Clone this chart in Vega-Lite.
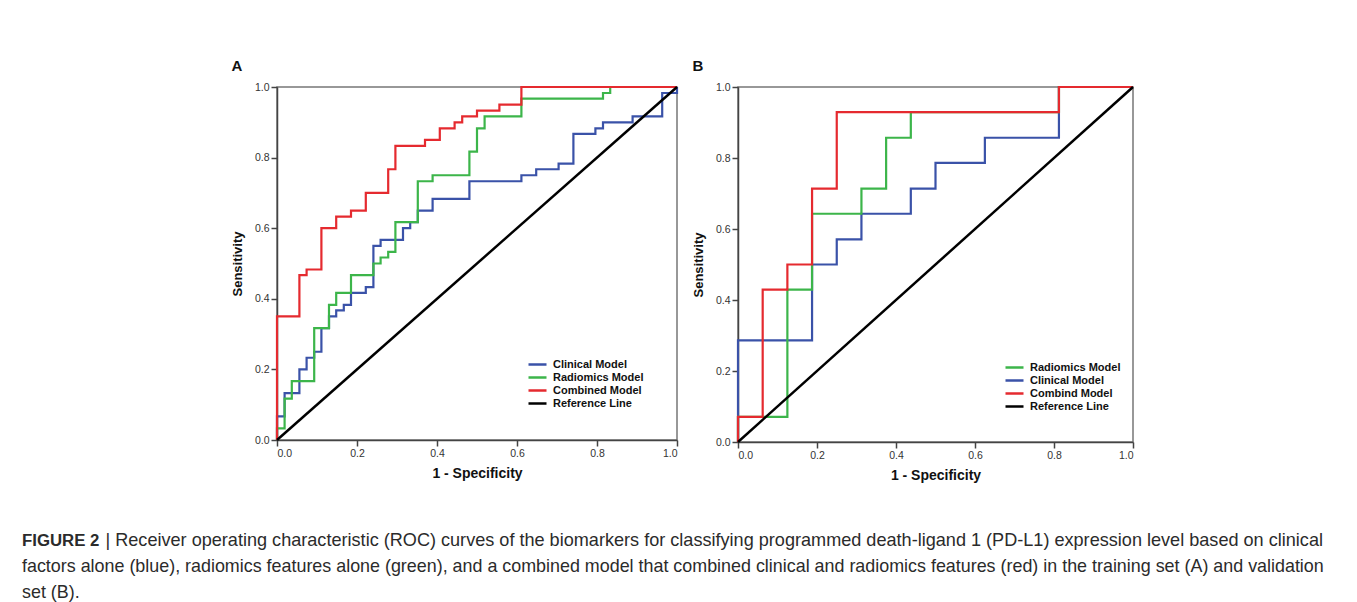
{
  "$schema": "https://vega.github.io/schema/vega-lite/v6.json",
  "background": "white",
  "padding": {"left": 22, "top": 58, "right": 0, "bottom": 0},
  "datasets": {
    "rocA": [
      {"model": "Clinical Model", "i": 0, "fpr": 0, "tpr": 0},
      {"model": "Clinical Model", "i": 1, "fpr": 0.019, "tpr": 0.067},
      {"model": "Clinical Model", "i": 2, "fpr": 0.056, "tpr": 0.133},
      {"model": "Clinical Model", "i": 3, "fpr": 0.074, "tpr": 0.2},
      {"model": "Clinical Model", "i": 4, "fpr": 0.093, "tpr": 0.233},
      {"model": "Clinical Model", "i": 5, "fpr": 0.111, "tpr": 0.25},
      {"model": "Clinical Model", "i": 6, "fpr": 0.13, "tpr": 0.317},
      {"model": "Clinical Model", "i": 7, "fpr": 0.148, "tpr": 0.35},
      {"model": "Clinical Model", "i": 8, "fpr": 0.167, "tpr": 0.367},
      {"model": "Clinical Model", "i": 9, "fpr": 0.185, "tpr": 0.383},
      {"model": "Clinical Model", "i": 10, "fpr": 0.222, "tpr": 0.417},
      {"model": "Clinical Model", "i": 11, "fpr": 0.241, "tpr": 0.433},
      {"model": "Clinical Model", "i": 12, "fpr": 0.259, "tpr": 0.55},
      {"model": "Clinical Model", "i": 13, "fpr": 0.315, "tpr": 0.567},
      {"model": "Clinical Model", "i": 14, "fpr": 0.333, "tpr": 0.6},
      {"model": "Clinical Model", "i": 15, "fpr": 0.352, "tpr": 0.617},
      {"model": "Clinical Model", "i": 16, "fpr": 0.389, "tpr": 0.65},
      {"model": "Clinical Model", "i": 17, "fpr": 0.481, "tpr": 0.683},
      {"model": "Clinical Model", "i": 18, "fpr": 0.611, "tpr": 0.733},
      {"model": "Clinical Model", "i": 19, "fpr": 0.648, "tpr": 0.75},
      {"model": "Clinical Model", "i": 20, "fpr": 0.704, "tpr": 0.767},
      {"model": "Clinical Model", "i": 21, "fpr": 0.741, "tpr": 0.783},
      {"model": "Clinical Model", "i": 22, "fpr": 0.796, "tpr": 0.867},
      {"model": "Clinical Model", "i": 23, "fpr": 0.815, "tpr": 0.883},
      {"model": "Clinical Model", "i": 24, "fpr": 0.889, "tpr": 0.9},
      {"model": "Clinical Model", "i": 25, "fpr": 0.963, "tpr": 0.917},
      {"model": "Clinical Model", "i": 26, "fpr": 1, "tpr": 0.983},
      {"model": "Clinical Model", "i": 27, "fpr": 1, "tpr": 1},
      {"model": "Radiomics Model", "i": 0, "fpr": 0, "tpr": 0},
      {"model": "Radiomics Model", "i": 1, "fpr": 0.019, "tpr": 0.033},
      {"model": "Radiomics Model", "i": 2, "fpr": 0.037, "tpr": 0.117},
      {"model": "Radiomics Model", "i": 3, "fpr": 0.093, "tpr": 0.167},
      {"model": "Radiomics Model", "i": 4, "fpr": 0.13, "tpr": 0.317},
      {"model": "Radiomics Model", "i": 5, "fpr": 0.148, "tpr": 0.383},
      {"model": "Radiomics Model", "i": 6, "fpr": 0.185, "tpr": 0.417},
      {"model": "Radiomics Model", "i": 7, "fpr": 0.241, "tpr": 0.467},
      {"model": "Radiomics Model", "i": 8, "fpr": 0.259, "tpr": 0.5},
      {"model": "Radiomics Model", "i": 9, "fpr": 0.278, "tpr": 0.517},
      {"model": "Radiomics Model", "i": 10, "fpr": 0.296, "tpr": 0.533},
      {"model": "Radiomics Model", "i": 11, "fpr": 0.352, "tpr": 0.617},
      {"model": "Radiomics Model", "i": 12, "fpr": 0.389, "tpr": 0.733},
      {"model": "Radiomics Model", "i": 13, "fpr": 0.481, "tpr": 0.75},
      {"model": "Radiomics Model", "i": 14, "fpr": 0.5, "tpr": 0.817},
      {"model": "Radiomics Model", "i": 15, "fpr": 0.519, "tpr": 0.883},
      {"model": "Radiomics Model", "i": 16, "fpr": 0.611, "tpr": 0.917},
      {"model": "Radiomics Model", "i": 17, "fpr": 0.815, "tpr": 0.967},
      {"model": "Radiomics Model", "i": 18, "fpr": 0.833, "tpr": 0.983},
      {"model": "Radiomics Model", "i": 19, "fpr": 1, "tpr": 1},
      {"model": "Combined Model", "i": 0, "fpr": 0, "tpr": 0},
      {"model": "Combined Model", "i": 1, "fpr": 0.056, "tpr": 0.35},
      {"model": "Combined Model", "i": 2, "fpr": 0.074, "tpr": 0.467},
      {"model": "Combined Model", "i": 3, "fpr": 0.111, "tpr": 0.483},
      {"model": "Combined Model", "i": 4, "fpr": 0.148, "tpr": 0.6},
      {"model": "Combined Model", "i": 5, "fpr": 0.185, "tpr": 0.633},
      {"model": "Combined Model", "i": 6, "fpr": 0.222, "tpr": 0.65},
      {"model": "Combined Model", "i": 7, "fpr": 0.278, "tpr": 0.7},
      {"model": "Combined Model", "i": 8, "fpr": 0.296, "tpr": 0.767},
      {"model": "Combined Model", "i": 9, "fpr": 0.37, "tpr": 0.833},
      {"model": "Combined Model", "i": 10, "fpr": 0.407, "tpr": 0.85},
      {"model": "Combined Model", "i": 11, "fpr": 0.444, "tpr": 0.883},
      {"model": "Combined Model", "i": 12, "fpr": 0.463, "tpr": 0.9},
      {"model": "Combined Model", "i": 13, "fpr": 0.5, "tpr": 0.917},
      {"model": "Combined Model", "i": 14, "fpr": 0.556, "tpr": 0.933},
      {"model": "Combined Model", "i": 15, "fpr": 0.611, "tpr": 0.95},
      {"model": "Combined Model", "i": 16, "fpr": 1, "tpr": 1},
      {"model": "Reference Line", "i": 0, "fpr": 0, "tpr": 0},
      {"model": "Reference Line", "i": 1, "fpr": 1, "tpr": 1}
    ],
    "rocB": [
      {"model": "Radiomics Model", "i": 0, "fpr": 0, "tpr": 0},
      {"model": "Radiomics Model", "i": 1, "fpr": 0.125, "tpr": 0.071},
      {"model": "Radiomics Model", "i": 2, "fpr": 0.1875, "tpr": 0.429},
      {"model": "Radiomics Model", "i": 3, "fpr": 0.3125, "tpr": 0.643},
      {"model": "Radiomics Model", "i": 4, "fpr": 0.375, "tpr": 0.714},
      {"model": "Radiomics Model", "i": 5, "fpr": 0.4375, "tpr": 0.857},
      {"model": "Radiomics Model", "i": 6, "fpr": 0.8125, "tpr": 0.929},
      {"model": "Radiomics Model", "i": 7, "fpr": 1, "tpr": 1},
      {"model": "Clinical Model", "i": 0, "fpr": 0, "tpr": 0},
      {"model": "Clinical Model", "i": 1, "fpr": 0.1875, "tpr": 0.286},
      {"model": "Clinical Model", "i": 2, "fpr": 0.25, "tpr": 0.5},
      {"model": "Clinical Model", "i": 3, "fpr": 0.3125, "tpr": 0.571},
      {"model": "Clinical Model", "i": 4, "fpr": 0.4375, "tpr": 0.643},
      {"model": "Clinical Model", "i": 5, "fpr": 0.5, "tpr": 0.714},
      {"model": "Clinical Model", "i": 6, "fpr": 0.625, "tpr": 0.786},
      {"model": "Clinical Model", "i": 7, "fpr": 0.8125, "tpr": 0.857},
      {"model": "Clinical Model", "i": 8, "fpr": 1, "tpr": 1},
      {"model": "Combind Model", "i": 0, "fpr": 0, "tpr": 0},
      {"model": "Combind Model", "i": 1, "fpr": 0.0625, "tpr": 0.071},
      {"model": "Combind Model", "i": 2, "fpr": 0.125, "tpr": 0.429},
      {"model": "Combind Model", "i": 3, "fpr": 0.1875, "tpr": 0.5},
      {"model": "Combind Model", "i": 4, "fpr": 0.25, "tpr": 0.714},
      {"model": "Combind Model", "i": 5, "fpr": 0.8125, "tpr": 0.929},
      {"model": "Combind Model", "i": 6, "fpr": 1, "tpr": 1},
      {"model": "Reference Line", "i": 0, "fpr": 0, "tpr": 0},
      {"model": "Reference Line", "i": 1, "fpr": 1, "tpr": 1}
    ],
    "captionLeft": [
      {"line": 2, "text": "factors alone (blue), radiomics features alone (green), and a combined model that combined clinical and radiomics features (red) in the training set (A) and validation"},
      {"line": 3, "text": "set (B)."}
    ],
    "captionBold": [
      {"line": 1, "text": "FIGURE 2"}
    ],
    "captionRight": [
      {"line": 1, "text": "| Receiver operating characteristic (ROC) curves of the biomarkers for classifying programmed death-ligand 1 (PD-L1) expression level based on clinical"}
    ]
  },
  "vconcat": [
    {
      "hconcat": [
        {
          "width": 200,
          "height": 10,
          "data": {"values": []},
          "mark": {"type": "point", "opacity": 0},
          "view": {"stroke": null}
        },
        {
          "width": 400,
          "height": 353,
          "title": {"text": "A", "anchor": "start", "frame": "bounds", "fontSize": 15, "fontWeight": "bold", "offset": 8, "color": "#111"},
          "data": {"name": "rocA"},
          "encoding": {
            "x": {"field": "fpr", "type": "quantitative", "scale": {"domain": [0, 1], "nice": false}, "axis": {"title": "1 - Specificity", "values": [0, 0.2, 0.4, 0.6, 0.8, 1], "format": ".1f", "titleFontSize": 14, "titlePadding": 8}},
            "y": {"field": "tpr", "type": "quantitative", "scale": {"domain": [0, 1], "nice": false}, "axis": {"title": "Sensitivity", "values": [0, 0.2, 0.4, 0.6, 0.8, 1], "format": ".1f", "titleFontSize": 13, "titlePadding": 10}},
            "color": {
              "field": "model", "type": "nominal",
              "scale": {"domain": ["Clinical Model", "Radiomics Model", "Combined Model", "Reference Line"], "range": ["#3a52a8", "#3cb54a", "#e52a2f", "#000000"]},
              "legend": {"orient": "none", "legendX": 250, "legendY": 271}
            },
            "order": {"field": "i", "type": "quantitative"}
          },
          "layer": [
            {"transform": [{"filter": "datum.model === 'Clinical Model'"}], "mark": {"type": "line", "interpolate": "step-before", "strokeWidth": 2.2}},
            {"transform": [{"filter": "datum.model === 'Radiomics Model'"}], "mark": {"type": "line", "interpolate": "step-before", "strokeWidth": 2.2}},
            {"transform": [{"filter": "datum.model === 'Combined Model'"}], "mark": {"type": "line", "interpolate": "step-before", "strokeWidth": 2.2}},
            {"transform": [{"filter": "datum.model === 'Reference Line'"}], "mark": {"type": "line", "strokeWidth": 2.5}}
          ]
        },
        {
          "width": 395,
          "height": 355,
          "title": {"text": "B", "anchor": "start", "frame": "bounds", "fontSize": 15, "fontWeight": "bold", "offset": 8, "color": "#111"},
          "data": {"name": "rocB"},
          "encoding": {
            "x": {"field": "fpr", "type": "quantitative", "scale": {"domain": [0, 1], "nice": false}, "axis": {"title": "1 - Specificity", "values": [0, 0.2, 0.4, 0.6, 0.8, 1], "format": ".1f", "titleFontSize": 14, "titlePadding": 8}},
            "y": {"field": "tpr", "type": "quantitative", "scale": {"domain": [0, 1], "nice": false}, "axis": {"title": "Sensitivity", "values": [0, 0.2, 0.4, 0.6, 0.8, 1], "format": ".1f", "titleFontSize": 13, "titlePadding": 10}},
            "color": {
              "field": "model", "type": "nominal",
              "scale": {"domain": ["Radiomics Model", "Clinical Model", "Combind Model", "Reference Line"], "range": ["#3cb54a", "#3a52a8", "#e52a2f", "#000000"]},
              "legend": {"orient": "none", "legendX": 266, "legendY": 274}
            },
            "order": {"field": "i", "type": "quantitative"}
          },
          "layer": [
            {"transform": [{"filter": "datum.model === 'Clinical Model'"}], "mark": {"type": "line", "interpolate": "step-before", "strokeWidth": 2.2}},
            {"transform": [{"filter": "datum.model === 'Radiomics Model'"}], "mark": {"type": "line", "interpolate": "step-before", "strokeWidth": 2.2}},
            {"transform": [{"filter": "datum.model === 'Combind Model'"}], "mark": {"type": "line", "interpolate": "step-before", "strokeWidth": 2.2}},
            {"transform": [{"filter": "datum.model === 'Reference Line'"}], "mark": {"type": "line", "strokeWidth": 2.5}}
          ]
        }
      ],
      "spacing": 8,
      "resolve": {"scale": {"color": "independent", "x": "independent", "y": "independent"}, "legend": {"color": "independent"}}
    },
    {
      "width": 1301,
      "height": 78,
      "view": {"stroke": null},
      "encoding": {
        "y": {"field": "line", "type": "ordinal", "scale": {"type": "point", "padding": 0.5, "domain": [1, 2, 3]}, "axis": null},
        "text": {"field": "text"}
      },
      "layer": [
        {
          "data": {"name": "captionLeft"},
          "mark": {"type": "text", "align": "left", "baseline": "middle", "fontSize": 17.9, "color": "#2b2b2b", "font": "Liberation Sans"},
          "encoding": {"x": {"datum": 0, "type": "quantitative", "scale": {"domain": [0, 1]}, "axis": null}}
        },
        {
          "data": {"name": "captionBold"},
          "mark": {"type": "text", "align": "left", "baseline": "middle", "fontSize": 16.8, "fontWeight": "bold", "color": "#2b2b2b", "font": "Liberation Sans"},
          "encoding": {"x": {"datum": 0, "type": "quantitative", "scale": {"domain": [0, 1]}, "axis": null}}
        },
        {
          "data": {"name": "captionRight"},
          "mark": {"type": "text", "align": "right", "baseline": "middle", "fontSize": 18.1, "color": "#2b2b2b", "font": "Liberation Sans"},
          "encoding": {"x": {"datum": 1, "type": "quantitative", "scale": {"domain": [0, 1]}, "axis": null}}
        }
      ]
    }
  ],
  "spacing": 44,
  "config": {
    "font": "Liberation Sans",
    "view": {"stroke": "#777777", "strokeWidth": 1.5},
    "axis": {
      "grid": false,
      "labelFont": "Liberation Sans",
      "labelFontSize": 10.5,
      "labelColor": "#333333",
      "labelPadding": 2,
      "tickColor": "#444444",
      "tickSize": 6,
      "tickWidth": 1.5,
      "domainColor": "#444444",
      "domainWidth": 1.5,
      "titleFont": "Liberation Sans",
      "titleFontWeight": "bold",
      "titleColor": "#111111"
    },
    "legend": {
      "title": null,
      "padding": 0,
      "symbolType": "stroke",
      "symbolSize": 324,
      "symbolStrokeWidth": 2.5,
      "labelFont": "Liberation Sans",
      "labelFontSize": 11,
      "labelFontWeight": "bold",
      "labelColor": "#111111",
      "labelOffset": 5,
      "clipHeight": 13,
      "rowPadding": 0
    },
    "title": {"font": "Liberation Sans"}
  }
}
